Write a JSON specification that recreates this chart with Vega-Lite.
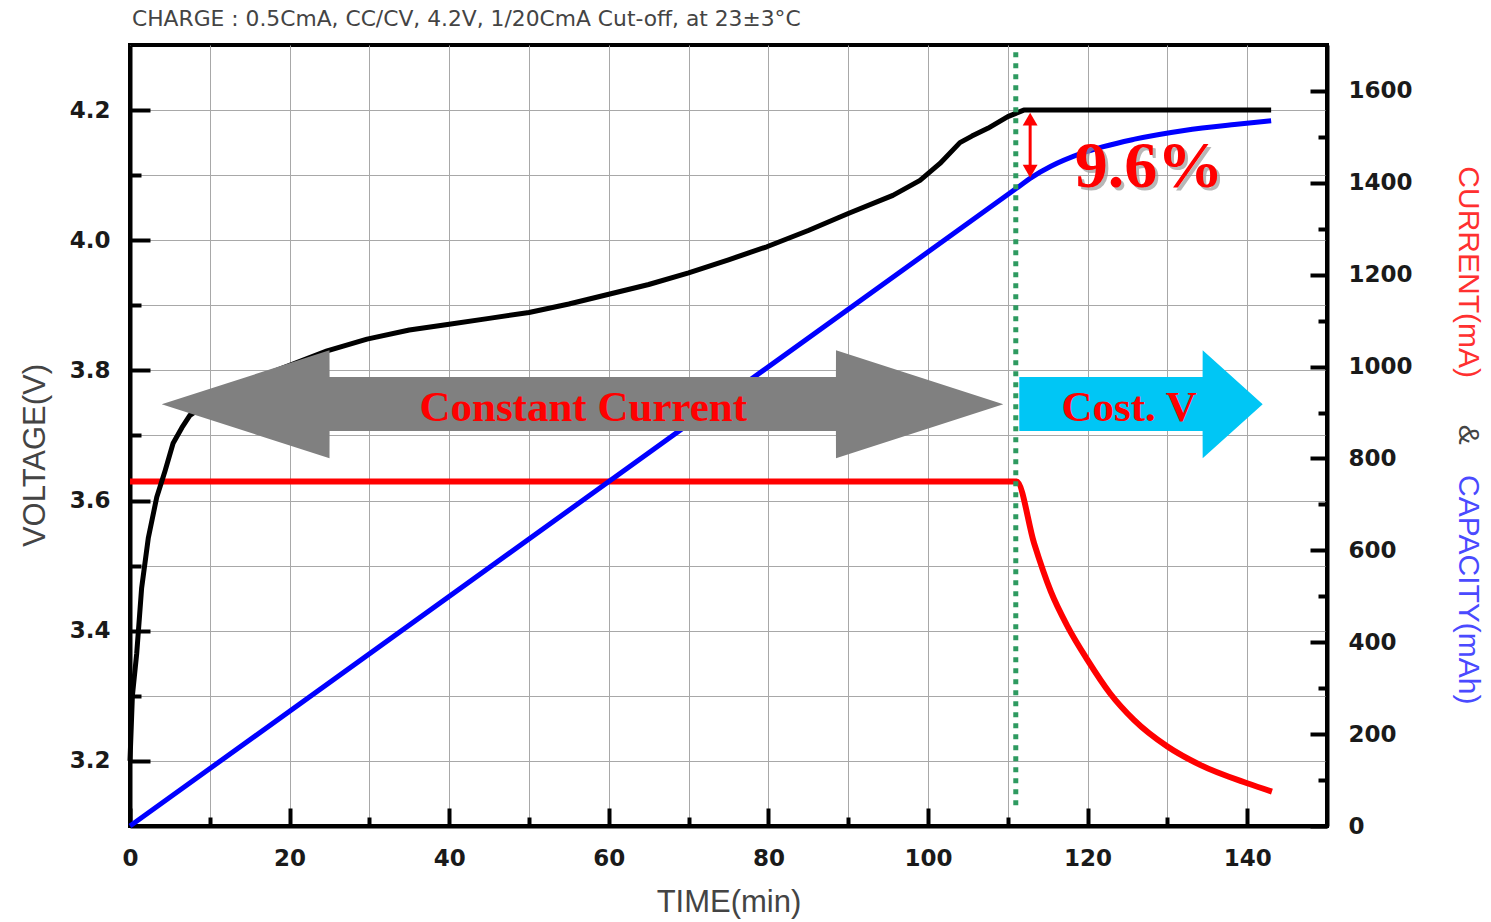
{
  "$schema": "https://vega.github.io/schema/vega-lite/v6.json",
  "width": 1197,
  "height": 781,
  "autosize": {"type": "none"},
  "padding": {"left": 130, "top": 45, "right": 164, "bottom": 96},
  "background": "white",
  "title": {
    "text": "CHARGE : 0.5CmA, CC/CV, 4.2V, 1/20CmA Cut-off, at 23±3°C",
    "anchor": "start",
    "frame": "group",
    "font": "DejaVu Sans",
    "fontSize": 21.8,
    "fontWeight": "normal",
    "color": "#444444",
    "offset": 14,
    "dx": 2
  },
  "config": {
    "view": {"stroke": "black", "strokeWidth": 4},
    "axis": {
      "domainColor": "black",
      "domainWidth": 4,
      "gridColor": "#a8a8a8",
      "gridWidth": 1,
      "labelFont": "DejaVu Sans",
      "labelFontSize": 23,
      "labelFontWeight": "bold",
      "labelColor": "#1a1a1a",
      "tickColor": "black",
      "titleFont": "Liberation Sans",
      "titleFontWeight": "normal",
      "titleColor": "#444444",
      "labelOverlap": false,
      "labelFlush": false
    }
  },
  "encoding": {
    "x": {
      "field": "t",
      "type": "quantitative",
      "scale": {"domain": [0, 150], "nice": false, "zero": false},
      "axis": {
        "values": [0, 10, 20, 30, 40, 50, 60, 70, 80, 90, 100, 110, 120, 130, 140],
        "grid": true,
        "labelExpr": "datum.value % 20 === 0 ? datum.label : ''",
        "tickSize": {"condition": {"test": "datum.value % 20 === 0", "value": -18}, "value": -9},
        "tickWidth": 4,
        "labelPadding": 39,
        "title": "TIME(min)",
        "titleFontSize": 31,
        "titlePadding": 8
      }
    }
  },
  "layer": [
    {
      "encoding": {
        "y": {
          "field": "ma",
          "type": "quantitative",
          "scale": {"domain": [0, 1700], "nice": false, "zero": false},
          "axis": {
            "orient": "right",
            "values": [0, 100, 200, 300, 400, 500, 600, 700, 800, 900, 1000, 1100, 1200, 1300, 1400, 1500, 1600],
            "grid": false,
            "labelExpr": "datum.value % 200 === 0 ? datum.label : ''",
            "tickSize": {"condition": {"test": "datum.value % 200 === 0", "value": -17}, "value": -9},
            "tickWidth": 4,
            "labelPadding": 38,
            "format": "d",
            "title": null
          }
        }
      },
      "layer": [
        {
          "data": {"values": [
            {"t": 0, "ma": 750}, {"t": 111.1, "ma": 750}, {"t": 113.3, "ma": 615}, {"t": 115.4, "ma": 510},
            {"t": 117.5, "ma": 434}, {"t": 120, "ma": 361}, {"t": 122.8, "ma": 289}, {"t": 125.8, "ma": 231},
            {"t": 130, "ma": 173}, {"t": 134.1, "ma": 133}, {"t": 140, "ma": 93}, {"t": 143.1, "ma": 75}
          ]},
          "mark": {"type": "line", "color": "#ff0000", "strokeWidth": 6, "interpolate": "monotone"}
        },
        {
          "data": {"values": [
            {"t": 0, "ma": 0}, {"t": 111, "ma": 1387}, {"t": 113, "ma": 1412}, {"t": 115.4, "ma": 1436},
            {"t": 119.2, "ma": 1464}, {"t": 125.9, "ma": 1495}, {"t": 132.1, "ma": 1514}, {"t": 138.4, "ma": 1527},
            {"t": 143, "ma": 1535}
          ]},
          "mark": {"type": "line", "color": "#0000ff", "strokeWidth": 5, "interpolate": "monotone"}
        }
      ]
    },
    {
      "encoding": {
        "y": {
          "field": "v",
          "type": "quantitative",
          "scale": {"domain": [3.1, 4.3], "nice": false, "zero": false},
          "axis": {
            "orient": "left",
            "values": [3.2, 3.3, 3.4, 3.5, 3.6, 3.7, 3.8, 3.9, 4.0, 4.1, 4.2],
            "grid": true,
            "labelExpr": "round(datum.value * 10) % 2 === 0 ? format(datum.value, '.1f') : ''",
            "tickSize": {"condition": {"test": "round(datum.value * 10) % 2 === 0", "value": -20}, "value": -11},
            "tickWidth": 4,
            "labelPadding": 40,
            "title": "VOLTAGE(V)",
            "titleFontSize": 31,
            "titlePadding": 18,
            "titleY": 410
          }
        }
      },
      "layer": [
        {
          "data": {"values": [
            {"t": 0, "v": 3.2}, {"t": 0.3, "v": 3.3}, {"t": 0.84, "v": 3.365}, {"t": 1.46, "v": 3.466},
            {"t": 2.3, "v": 3.543}, {"t": 3.35, "v": 3.605}, {"t": 4.4, "v": 3.646}, {"t": 5.4, "v": 3.688},
            {"t": 6.5, "v": 3.712}, {"t": 7.5, "v": 3.731}, {"t": 10, "v": 3.752}, {"t": 13, "v": 3.772},
            {"t": 16, "v": 3.789}, {"t": 20, "v": 3.808}, {"t": 24.7, "v": 3.83}, {"t": 29.7, "v": 3.848},
            {"t": 35, "v": 3.862}, {"t": 40, "v": 3.871}, {"t": 45, "v": 3.88}, {"t": 50, "v": 3.889},
            {"t": 55, "v": 3.902}, {"t": 60, "v": 3.917}, {"t": 65, "v": 3.932}, {"t": 70, "v": 3.95},
            {"t": 75, "v": 3.97}, {"t": 79.8, "v": 3.99}, {"t": 85, "v": 4.015}, {"t": 90, "v": 4.041},
            {"t": 95.6, "v": 4.069}, {"t": 99, "v": 4.092}, {"t": 101.5, "v": 4.118}, {"t": 104, "v": 4.15},
            {"t": 105.5, "v": 4.16}, {"t": 107.5, "v": 4.172}, {"t": 110, "v": 4.19}, {"t": 112, "v": 4.2},
            {"t": 143, "v": 4.2}
          ]},
          "mark": {"type": "line", "color": "#000000", "strokeWidth": 5, "strokeJoin": "round"}
        },
        {
          "data": {"values": [
            {"arrow": "cc", "t": 3.97, "v": 3.748, "v2": 3.748},
            {"arrow": "cc", "t": 25.0, "v": 3.831, "v2": 3.665},
            {"arrow": "cc", "t": 25.01, "v": 3.79, "v2": 3.707},
            {"arrow": "cc", "t": 88.46, "v": 3.79, "v2": 3.707},
            {"arrow": "cc", "t": 88.47, "v": 3.831, "v2": 3.665},
            {"arrow": "cc", "t": 109.44, "v": 3.748, "v2": 3.748},
            {"arrow": "cv", "t": 111.44, "v": 3.79, "v2": 3.707},
            {"arrow": "cv", "t": 134.41, "v": 3.79, "v2": 3.707},
            {"arrow": "cv", "t": 134.42, "v": 3.831, "v2": 3.665},
            {"arrow": "cv", "t": 141.94, "v": 3.748, "v2": 3.748}
          ]},
          "mark": {"type": "area", "opacity": 1, "interpolate": "linear"},
          "encoding": {
            "y2": {"field": "v2"},
            "color": {"field": "arrow", "type": "nominal", "scale": {"domain": ["cc", "cv"], "range": ["#808080", "#00c6f5"]}, "legend": null}
          }
        },
        {
          "data": {"values": [{"t": 111, "v": 4.289, "v2": 3.131}]},
          "mark": {"type": "rule", "color": "#2e9a60", "strokeWidth": 5, "strokeDash": [5, 6]},
          "encoding": {"y2": {"field": "v2"}}
        },
        {
          "data": {"values": [{"t": 112.8, "v": 4.186, "v2": 4.106}]},
          "mark": {"type": "rule", "color": "#ff0000", "strokeWidth": 3},
          "encoding": {"y2": {"field": "v2"}}
        },
        {
          "data": {"values": [{"t": 112.8, "v": 4.186}]},
          "mark": {"type": "point", "shape": "triangle-up", "filled": true, "color": "#ff0000", "opacity": 1, "size": 220}
        },
        {
          "data": {"values": [{"t": 112.8, "v": 4.106}]},
          "mark": {"type": "point", "shape": "triangle-down", "filled": true, "color": "#ff0000", "opacity": 1, "size": 220}
        },
        {
          "data": {"values": [{"t": 127.7, "v": 4.0818, "label": "9.6%"}]},
          "mark": {"type": "text", "font": "Liberation Serif", "fontWeight": "bold", "fontSize": 66, "align": "center", "baseline": "alphabetic", "color": "#9a9a9a", "opacity": 0.7, "dx": 3, "dy": 3},
          "encoding": {"text": {"field": "label"}}
        },
        {
          "data": {"values": [{"t": 127.7, "v": 4.0818, "label": "9.6%"}]},
          "mark": {"type": "text", "font": "Liberation Serif", "fontWeight": "bold", "fontSize": 66, "align": "center", "baseline": "alphabetic", "color": "#ff0000"},
          "encoding": {"text": {"field": "label"}}
        },
        {
          "data": {"values": [{"t": 56.8, "v": 3.7223, "label": "Constant Current"}, {"t": 125.2, "v": 3.7223, "label": "Cost. V"}]},
          "mark": {"type": "text", "font": "Liberation Serif", "fontWeight": "bold", "fontSize": 43, "align": "center", "baseline": "alphabetic", "color": "#ff0000"},
          "encoding": {"text": {"field": "label"}}
        },
        {
          "data": {"values": [{"t": 167.7, "v": 3.951, "label": "CURRENT(mA)"}]},
          "mark": {"type": "text", "font": "Liberation Sans", "fontSize": 30, "angle": 90, "align": "center", "baseline": "middle", "color": "#ff3030"},
          "encoding": {"text": {"field": "label"}}
        },
        {
          "data": {"values": [{"t": 167.7, "v": 3.701, "label": "&"}]},
          "mark": {"type": "text", "font": "Liberation Sans", "fontSize": 30, "angle": 90, "align": "center", "baseline": "middle", "color": "#444444"},
          "encoding": {"text": {"field": "label"}}
        },
        {
          "data": {"values": [{"t": 167.7, "v": 3.463, "label": "CAPACITY(mAh)"}]},
          "mark": {"type": "text", "font": "Liberation Sans", "fontSize": 30, "angle": 90, "align": "center", "baseline": "middle", "color": "#4a4aff"},
          "encoding": {"text": {"field": "label"}}
        }
      ]
    }
  ],
  "resolve": {"scale": {"y": "independent"}}
}
